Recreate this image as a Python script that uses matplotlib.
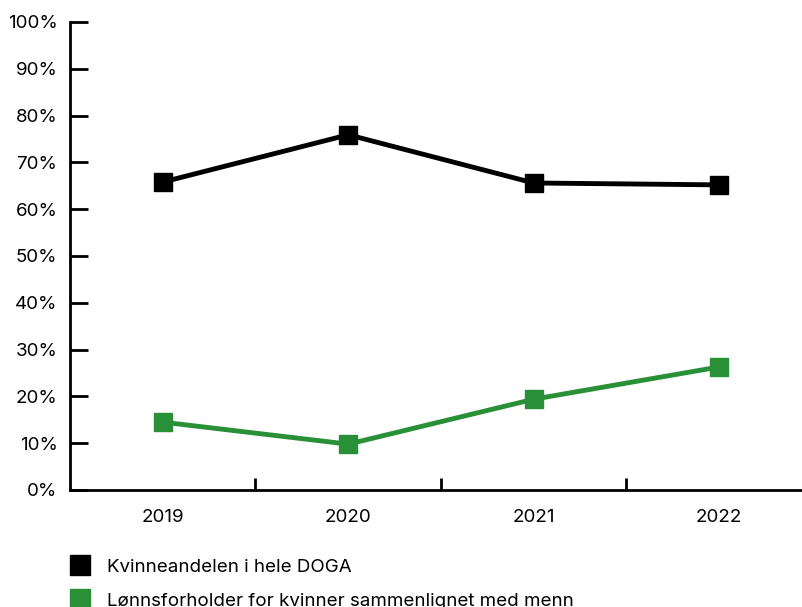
import matplotlib
matplotlib.use("Agg")
import matplotlib.pyplot as plt
from matplotlib.lines import Line2D
from matplotlib.ticker import FuncFormatter

years = ["2019", "2020", "2021", "2022"]
kvinneandel = [65.8, 75.9, 65.6, 65.2]
lonnsforhold = [14.5, 9.8, 19.4, 26.3]
y_ticks = [0, 10, 20, 30, 40, 50, 60, 70, 80, 90, 100]
series_labels = ["Kvinneandelen i hele DOGA",
                 "Lønnsforholder for kvinner sammenlignet med menn"]

BLACK = "#000000"
GREEN = "#2a9038"

plt.rcParams["font.family"] = ["Inter", "DejaVu Sans"]

fig = plt.figure(figsize=(8.03, 6.07), dpi=100)
W, H = 803, 607
left, right, bottom, top = 70, 812, 490, 22
ax = fig.add_axes([left / W, 1 - bottom / H, (right - left) / W, (bottom - top) / H])

x = list(range(len(years)))
ax.plot(x, kvinneandel, color=BLACK, lw=3.5, marker="s", ms=12.5,
        solid_joinstyle="miter", clip_on=False, zorder=3)
ax.plot(x, lonnsforhold, color=GREEN, lw=3.5, marker="s", ms=12.5,
        solid_joinstyle="miter", clip_on=False, zorder=3)

ax.set_xlim(-0.5, len(years) - 0.5)
ax.set_ylim(0, 100)

for s in ["top", "right"]:
    ax.spines[s].set_visible(False)
for s in ["left", "bottom"]:
    ax.spines[s].set_linewidth(2)
    ax.spines[s].set_color(BLACK)

ax.set_yticks(y_ticks)
ax.yaxis.set_major_formatter(FuncFormatter(lambda v, p: f"{int(v)}%"))
ax.tick_params(axis="y", direction="in", length=13, width=2, labelsize=13.5,
               pad=9, colors=BLACK)

# category labels centred, tick marks on category boundaries
ax.set_xticks(x)
ax.set_xticklabels(years)
ax.tick_params(axis="x", which="major", length=0, labelsize=13.5, pad=14)
ax.set_xticks([i + 0.5 for i in range(len(years) - 1)], minor=True)
ax.tick_params(axis="x", which="minor", direction="in", length=9, width=2,
               colors=BLACK)

handles = [Line2D([], [], ls="none", marker="s", ms=14.5, color=BLACK),
           Line2D([], [], ls="none", marker="s", ms=14.5, color=GREEN)]
fig.legend(handles, series_labels, loc="upper left",
           bbox_to_anchor=(63 / W, 1 - 551 / H), frameon=False,
           fontsize=13.5, handlelength=1.0, handletextpad=0.95,
           labelspacing=0.92, borderaxespad=0)

fig.savefig("out.png", dpi=100)
